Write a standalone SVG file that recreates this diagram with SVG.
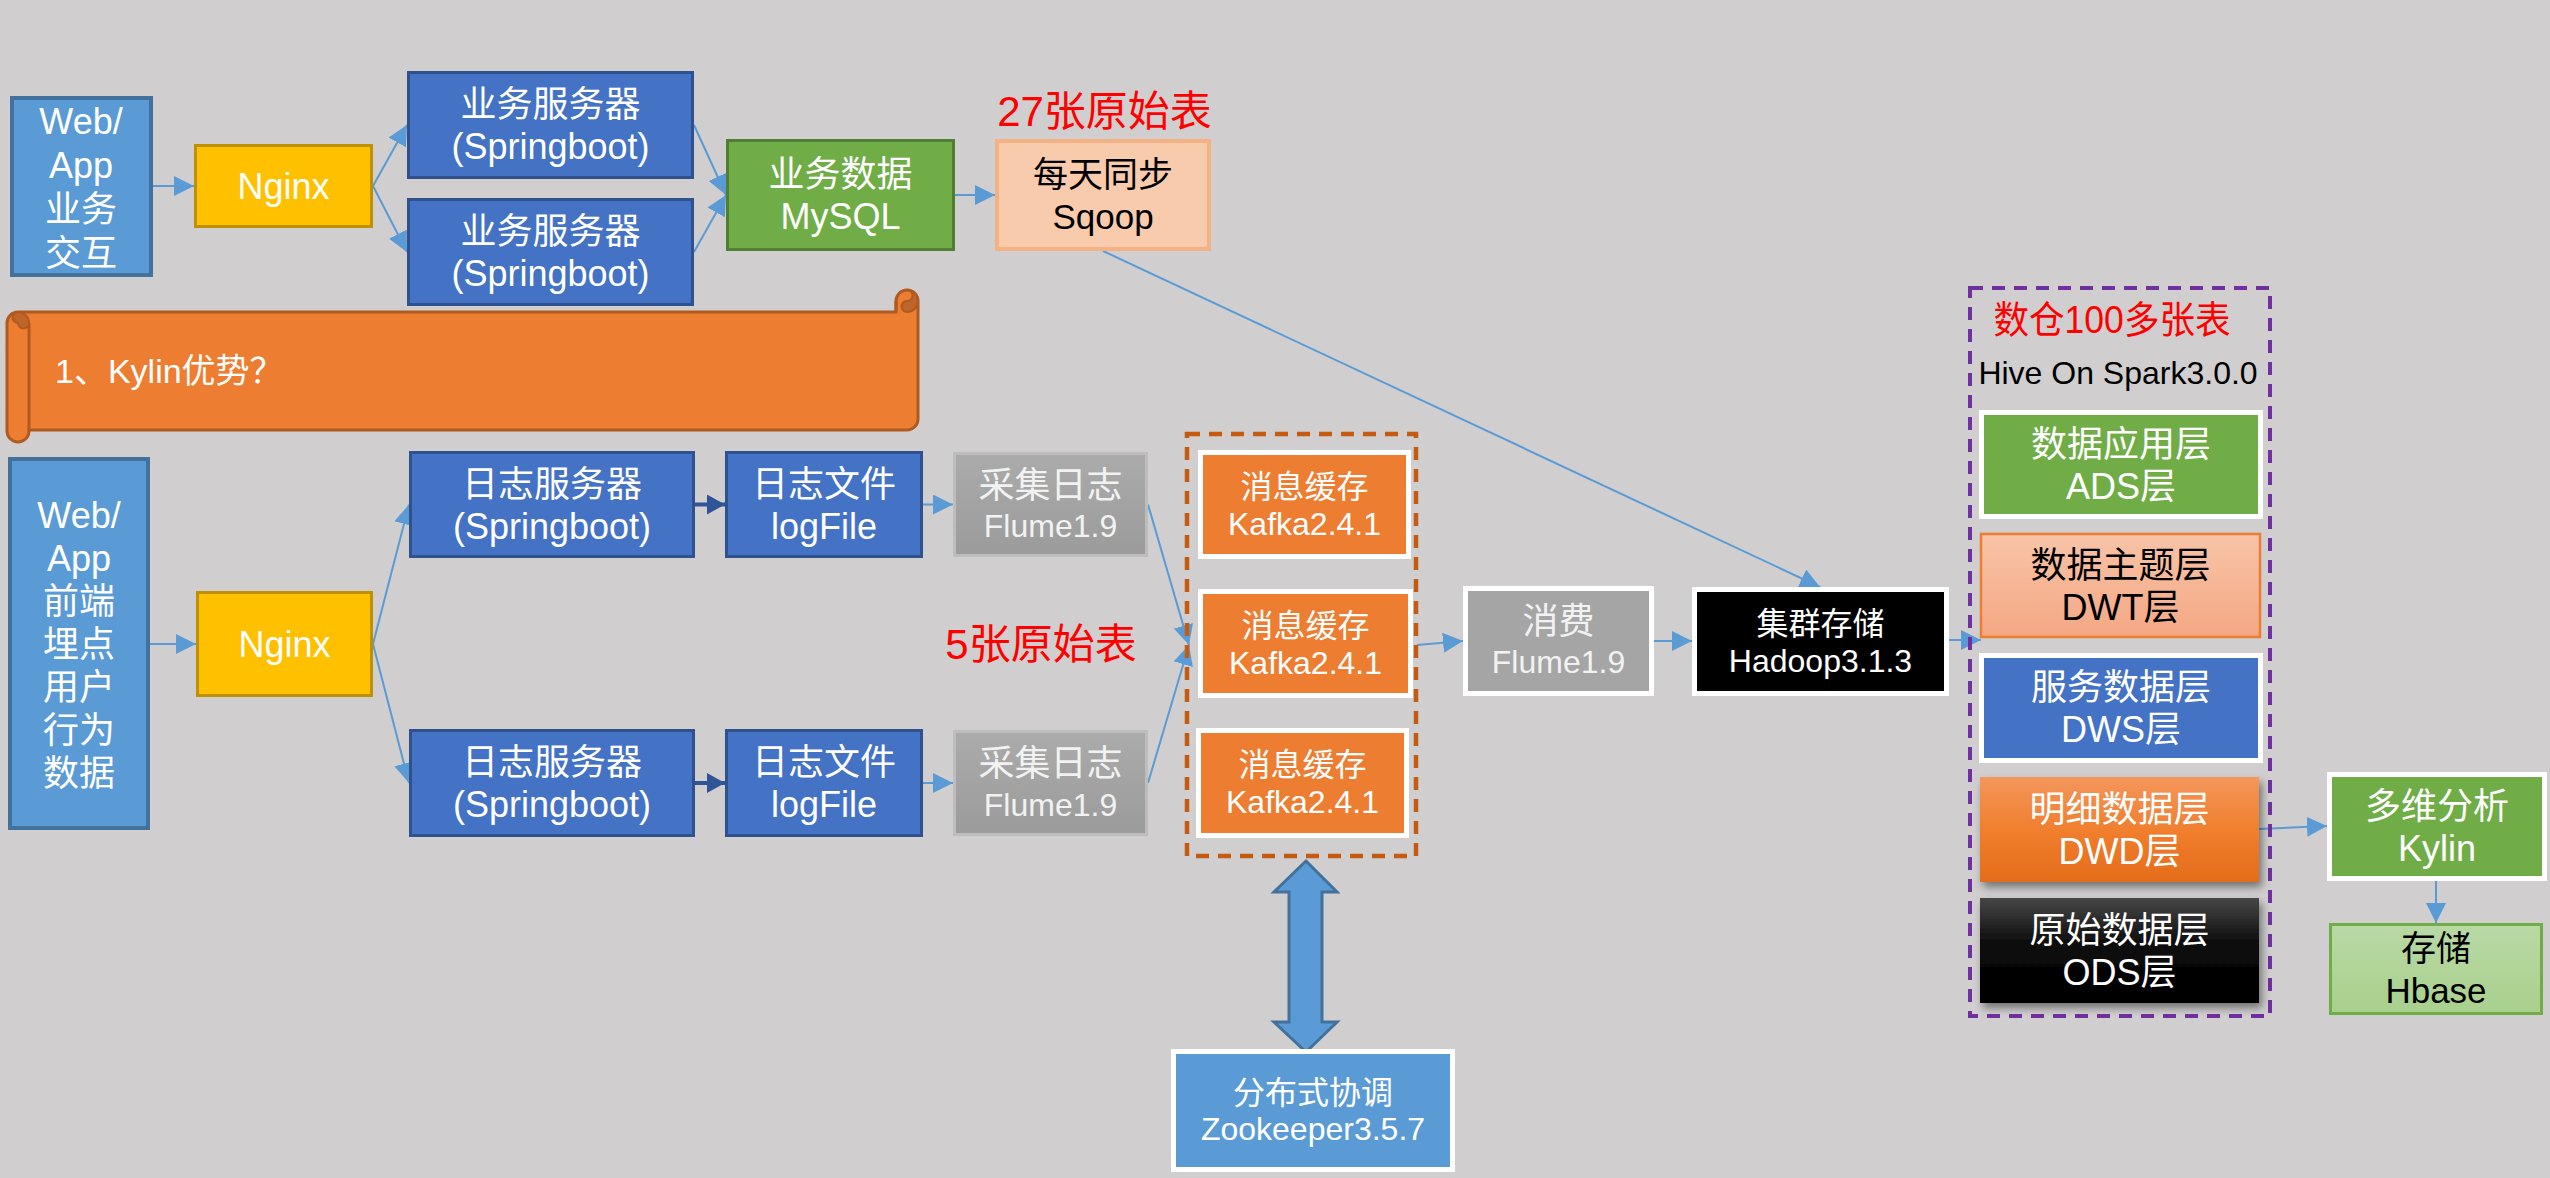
<svg xmlns="http://www.w3.org/2000/svg" width="2550" height="1178" viewBox="0 0 2550 1178">
<style>
text{font-family:"Liberation Sans","Noto Sans CJK SC",sans-serif;text-anchor:middle}
.f36{font-size:36px}.f35{font-size:35px}.f32{font-size:32px}.f34{font-size:34px}
.w{fill:#FFFFFF}.g{fill:#F2F2F2}.k{fill:#000000}.red{fill:#FF0000;font-size:42px}
.wb{stroke:#FFFFFF;stroke-width:5}
.blue{fill:#4472C4;stroke:#2F528F;stroke-width:3}
.lb{fill:#5B9BD5;stroke:#41719C;stroke-width:4}
.ng{fill:#FFC000;stroke:#BF9000;stroke-width:3}
.ln{stroke:#5B9BD5;stroke-width:2;fill:none;marker-end:url(#ah)}
.dk{stroke:#2F5597;stroke-width:4;fill:none;marker-end:url(#ahd)}
</style>
<defs>
<marker id="ah" markerUnits="userSpaceOnUse" markerWidth="20" markerHeight="20" refX="20" refY="10" orient="auto"><path d="M0,0 L20,10 L0,20 Z" fill="#5B9BD5"/></marker>
<marker id="ahd" markerUnits="userSpaceOnUse" markerWidth="18" markerHeight="20" refX="18" refY="10" orient="auto"><path d="M0,0 L18,10 L0,20 Z" fill="#2F5597"/></marker>
<linearGradient id="gGray" x1="0" y1="0" x2="0" y2="1"><stop offset="0" stop-color="#ABABAB"/><stop offset="1" stop-color="#9B9B9B"/></linearGradient>
<linearGradient id="gDwt" x1="0" y1="0" x2="0" y2="1"><stop offset="0" stop-color="#F8C4A8"/><stop offset="1" stop-color="#F4A783"/></linearGradient>
<linearGradient id="gDwd" x1="0" y1="0" x2="0" y2="1"><stop offset="0" stop-color="#F4965C"/><stop offset="0.5" stop-color="#F07F2E"/><stop offset="1" stop-color="#E46C1A"/></linearGradient>
<linearGradient id="gOds" x1="0" y1="0" x2="0" y2="1"><stop offset="0" stop-color="#474747"/><stop offset="0.45" stop-color="#0A0A0A"/><stop offset="1" stop-color="#000000"/></linearGradient>
<linearGradient id="gHb" x1="0" y1="0" x2="0" y2="1"><stop offset="0" stop-color="#B9D9A5"/><stop offset="1" stop-color="#A8D08D"/></linearGradient>
<filter id="sh" x="-10%" y="-10%" width="125%" height="135%"><feDropShadow dx="3" dy="5" stdDeviation="4" flood-color="#000" flood-opacity="0.45"/></filter>
</defs>
<rect x="0" y="0" width="2550" height="1178" fill="#D0CECE"/>

<g id="connectors">
<line class="ln" x1="153" y1="186" x2="194" y2="186"/>
<line class="ln" x1="373" y1="186" x2="407" y2="125"/>
<line class="ln" x1="373" y1="186" x2="407" y2="252"/>
<line class="ln" x1="694" y1="125" x2="726" y2="195"/>
<line class="ln" x1="694" y1="252" x2="726" y2="195"/>
<line class="ln" x1="955" y1="195" x2="995" y2="195"/>
<line class="ln" x1="1103" y1="251" x2="1820" y2="587"/>
<line class="ln" x1="150" y1="644" x2="196" y2="644"/>
<line class="ln" x1="373" y1="644" x2="409" y2="504.5"/>
<line class="ln" x1="373" y1="644" x2="409" y2="783"/>
<line class="dk" x1="695" y1="504.5" x2="725" y2="504.5"/>
<line class="dk" x1="695" y1="783" x2="725" y2="783"/>
<line class="ln" x1="923" y1="504.5" x2="953" y2="504.5"/>
<line class="ln" x1="923" y1="783" x2="953" y2="783"/>
<line class="ln" x1="1148" y1="504.5" x2="1189" y2="645"/>
<line class="ln" x1="1148" y1="783" x2="1189" y2="645"/>
<line class="ln" x1="1417" y1="645" x2="1463" y2="641"/>
<line class="ln" x1="1654" y1="641" x2="1692" y2="641"/>
<line class="ln" x1="1949" y1="640" x2="1981" y2="640"/>
<line class="ln" x1="2259" y1="829" x2="2327" y2="826"/>
<line class="ln" x1="2436" y1="881" x2="2436" y2="923"/>
<path id="zk-arrow" d="M1306,861 L1337,892 L1322,892 L1322,1022 L1337,1022 L1306,1052 L1274,1022 L1289,1022 L1289,892 L1274,892 Z" fill="#5B9BD5" stroke="#41719C" stroke-width="3" stroke-linejoin="miter"/>
</g>

<g id="webapp1">
<rect class="lb" x="12" y="98" width="139" height="177"/>
<text class="f36 w" x="81" y="133.5">Web/</text>
<text class="f36 w" x="81" y="177.5">App</text>
<text class="f36 w" x="81" y="221.5">业务</text>
<text class="f36 w" x="81" y="265.5">交互</text>
</g>
<g id="nginx1">
<rect class="ng" x="195.5" y="145.5" width="176" height="81"/>
<text class="f36 w" x="283.5" y="199">Nginx</text>
</g>
<g id="server1">
<rect class="blue" x="408.5" y="72.5" width="284" height="105"/>
<text class="f36 w" x="550.5" y="117">业务服务器</text>
<text class="f36 w" x="550.5" y="159">(Springboot)</text>
</g>
<g id="server2">
<rect class="blue" x="408.5" y="199.5" width="284" height="105"/>
<text class="f36 w" x="550.5" y="244">业务服务器</text>
<text class="f36 w" x="550.5" y="286">(Springboot)</text>
</g>
<g id="mysql">
<rect x="727.5" y="140.5" width="226" height="109" fill="#70AD47" stroke="#507E32" stroke-width="3"/>
<text class="f36 w" x="840.5" y="187">业务数据</text>
<text class="f36 w" x="840.5" y="229">MySQL</text>
</g>
<g id="label27">
<text class="red" x="1104.5" y="126">27张原始表</text>
</g>
<g id="sqoop">
<rect x="997" y="141" width="212" height="108" fill="#F8CBAD" stroke="#F4B183" stroke-width="4"/>
<text class="f35 k" x="1103" y="186.5">每天同步</text>
<text class="f35 k" x="1103" y="228.5">Sqoop</text>
</g>

<g id="scroll">
<path d="M7,323 A11,11 0 0 1 18,312 H896 V301 A11,11 0 0 1 918,301 V419 A11,11 0 0 1 907,430 H29 V431 A11,11 0 0 1 7,431 Z" fill="#ED7D31" stroke="#AE5A21" stroke-width="3"/>
<path d="M29,323 V430" stroke="#AE5A21" stroke-width="3" fill="none"/>
<path d="M18,312 A11,11 0 0 1 29,323 A5.5,5.5 0 0 1 18,323 A5.5,5.5 0 0 1 18,312 Z" fill="#C0652A" stroke="#AE5A21" stroke-width="2"/>
<path d="M907,290 A11,11 0 0 1 918,301 A11,11 0 0 1 907,312 A5.5,5.5 0 0 1 907,301 A5.5,5.5 0 0 0 907,290 Z" fill="#C0652A" stroke="#AE5A21" stroke-width="2"/>
<path d="M896,301 V312" stroke="#AE5A21" stroke-width="3"/>
<text class="f34 w" x="55" y="383" style="text-anchor:start">1、Kylin优势？</text>
</g>

<g id="webapp2">
<rect class="lb" x="10" y="459" width="138" height="369"/>
<text class="f36 w" x="79" y="527.5">Web/</text>
<text class="f36 w" x="79" y="570.5">App</text>
<text class="f36 w" x="79" y="613.5">前端</text>
<text class="f36 w" x="79" y="656.5">埋点</text>
<text class="f36 w" x="79" y="699.5">用户</text>
<text class="f36 w" x="79" y="742.5">行为</text>
<text class="f36 w" x="79" y="785.5">数据</text>
</g>
<g id="nginx2">
<rect class="ng" x="197.5" y="592.5" width="174" height="103"/>
<text class="f36 w" x="284.5" y="657">Nginx</text>
</g>
<g id="logserver1">
<rect class="blue" x="410.5" y="452.5" width="283" height="104"/>
<text class="f36 w" x="552" y="496.5">日志服务器</text>
<text class="f36 w" x="552" y="538.5">(Springboot)</text>
</g>
<g id="logserver2">
<rect class="blue" x="410.5" y="730.5" width="283" height="105"/>
<text class="f36 w" x="552" y="775">日志服务器</text>
<text class="f36 w" x="552" y="817">(Springboot)</text>
</g>
<g id="logfile1">
<rect class="blue" x="726.5" y="452.5" width="195" height="104"/>
<text class="f36 w" x="824" y="496.5">日志文件</text>
<text class="f36 w" x="824" y="538.5">logFile</text>
</g>
<g id="logfile2">
<rect class="blue" x="726.5" y="730.5" width="195" height="105"/>
<text class="f36 w" x="824" y="775">日志文件</text>
<text class="f36 w" x="824" y="817">logFile</text>
</g>
<g id="collect1">
<rect x="954.5" y="453.5" width="192" height="102" fill="url(#gGray)" stroke="#BDBDBD" stroke-width="3"/>
<text class="f36 g" x="1050.5" y="497.5">采集日志</text>
<text class="f32 g" x="1050.5" y="537">Flume1.9</text>
</g>
<g id="collect2">
<rect x="954.5" y="731.5" width="192" height="103" fill="url(#gGray)" stroke="#BDBDBD" stroke-width="3"/>
<text class="f36 g" x="1050.5" y="776">采集日志</text>
<text class="f32 g" x="1050.5" y="815.5">Flume1.9</text>
</g>
<g id="label5">
<text class="red" x="1041" y="659">5张原始表</text>
</g>

<g id="kafka-group">
<rect x="1187" y="434" width="229" height="422" fill="none" stroke="#C55A11" stroke-width="4.5" stroke-dasharray="13 9"/>
</g>
<g id="kafka1">
<rect class="wb" x="1200.5" y="452.5" width="208" height="104" fill="#ED7D31"/>
<text class="f32 w" x="1304.5" y="497.5">消息缓存</text>
<text class="f32 w" x="1304.5" y="534.5">Kafka2.4.1</text>
</g>
<g id="kafka2">
<rect class="wb" x="1200.5" y="591.5" width="210" height="104" fill="#ED7D31"/>
<text class="f32 w" x="1305.5" y="636.5">消息缓存</text>
<text class="f32 w" x="1305.5" y="673.5">Kafka2.4.1</text>
</g>
<g id="kafka3">
<rect class="wb" x="1198.5" y="730.5" width="208" height="105" fill="#ED7D31"/>
<text class="f32 w" x="1302.5" y="776">消息缓存</text>
<text class="f32 w" x="1302.5" y="813">Kafka2.4.1</text>
</g>
<g id="consume">
<rect class="wb" x="1465.5" y="588.5" width="186" height="105" fill="#A5A5A5"/>
<text class="f36 g" x="1558.5" y="633.5">消费</text>
<text class="f32 g" x="1558.5" y="673">Flume1.9</text>
</g>
<g id="hadoop">
<rect class="wb" x="1694.5" y="589.5" width="252" height="104" fill="#000000"/>
<text class="f32 w" x="1820.5" y="634.5">集群存储</text>
<text class="f32 w" x="1820.5" y="671.5">Hadoop3.1.3</text>
</g>
<g id="zookeeper">
<rect class="wb" x="1173.5" y="1051.5" width="279" height="118" fill="#5B9BD5"/>
<text class="f32 w" x="1313" y="1104">分布式协调</text>
<text class="f32 w" x="1313" y="1140">Zookeeper3.5.7</text>
</g>

<g id="dw-group">
<rect x="1970" y="288" width="300" height="728" fill="none" stroke="#7030A0" stroke-width="4" stroke-dasharray="13 9"/>
<text class="red" x="2112" y="333" style="font-size:38px" textLength="237" lengthAdjust="spacingAndGlyphs">数仓100多张表</text>
<text class="f32 k" x="2118" y="384">Hive On Spark3.0.0</text>
</g>
<g id="ads">
<rect class="wb" x="1981.5" y="412.5" width="279" height="104" fill="#70AD47"/>
<text class="f36 w" x="2121" y="456.5">数据应用层</text>
<text class="f36 w" x="2121" y="498.5">ADS层</text>
</g>
<g id="dwt">
<rect x="1981" y="534" width="279" height="103" fill="url(#gDwt)" stroke="#ED7D31" stroke-width="2.5"/>
<text class="f36 k" x="2120.5" y="577.5">数据主题层</text>
<text class="f36 k" x="2120.5" y="619.5">DWT层</text>
</g>
<g id="dws">
<rect class="wb" x="1981.5" y="655.5" width="279" height="105" fill="#4472C4"/>
<text class="f36 w" x="2121" y="700">服务数据层</text>
<text class="f36 w" x="2121" y="742">DWS层</text>
</g>
<g id="dwd">
<rect x="1980" y="777" width="279" height="105" fill="url(#gDwd)" filter="url(#sh)"/>
<text class="f36 w" x="2119.5" y="821.5">明细数据层</text>
<text class="f36 w" x="2119.5" y="863.5">DWD层</text>
</g>
<g id="ods">
<rect x="1980" y="898" width="279" height="105" fill="url(#gOds)" filter="url(#sh)"/>
<text class="f36 w" x="2119.5" y="942.5">原始数据层</text>
<text class="f36 w" x="2119.5" y="984.5">ODS层</text>
</g>
<g id="kylin">
<rect class="wb" x="2329.5" y="774.5" width="215" height="104" fill="#70AD47"/>
<text class="f36 w" x="2437" y="818.5">多维分析</text>
<text class="f36 w" x="2437" y="860.5">Kylin</text>
</g>
<g id="hbase">
<rect x="2330.5" y="924.5" width="211" height="89" fill="url(#gHb)" stroke="#70AD47" stroke-width="3"/>
<text class="f35 k" x="2436" y="960.5">存储</text>
<text class="f35 k" x="2436" y="1002.5">Hbase</text>
</g>
</svg>
